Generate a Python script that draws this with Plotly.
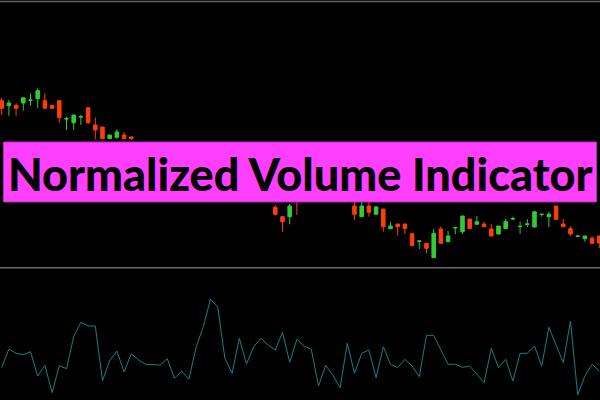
import plotly.graph_objects as go

# ---- candle data (price units, arbitrary scale) ----
candle_idx = list(range(84))
opens = [167.3, 162.3, 162.7, 165, 167.7, 169.3, 167.3, 162.7, 167.3, 149, 145.3, 151, 160.3, 143, 141, 129.3, 130.7, 133, 131,
         124, 120, 112, 116, 102, 105, 94, 98, 101, 90, 92, 83, 88, 86, 80, 84, 76, 79, 73,
         60.7, 51.3, 51.3, 70, 70, 72, 78, 76, 73, 77, 74,
         62, 51.3, 62, 53.7, 59, 39.3, 44, 44, 34.3, 26.7, 24.7, 10.3, 39, 26.3, 40, 36.3, 49, 43.7, 44, 39, 34, 39.3,
         49, 41.5, 43.7, 41, 53.5, 51.3, 62, 44, 39.3, 31.8, 29.3, 29.7, 32]
highs = [170, 168, 164.7, 170.3, 174.7, 179.7, 174.7, 162.7, 167.3, 151.3, 153, 153, 160.3, 150.7, 141, 133, 138.7, 136, 131.3,
         125, 124, 118, 117, 108, 107, 100, 104, 103, 95, 96, 90, 93, 91, 86, 87, 82, 81, 76,
         63, 51.3, 64, 72, 75, 80, 84, 82, 79, 81, 78,
         67, 67, 67, 62, 59, 46.3, 44, 44, 34.3, 27, 24.7, 39, 41.3, 37, 41.3, 52, 49, 52, 46.3, 44, 42, 49,
         51.3, 46.3, 49, 56.3, 53.7, 56.3, 62, 49, 41.7, 32.3, 32, 32, 32]
lows = [153, 152.3, 152.3, 157.3, 162.3, 159.7, 159.7, 159.7, 145.3, 138, 138, 143, 144, 128.7, 129, 129.3, 129.3, 129.3, 128,
        117, 110, 106, 100, 96, 92, 90, 95, 88, 84, 80, 79, 84, 78, 76, 74, 72, 70, 68,
        52.3, 36.3, 43.7, 53, 69, 70, 74, 70, 69, 72, 69,
        48, 51.3, 51.3, 53.7, 36.3, 39.3, 32.3, 34, 22.3, 19, 14.7, 10.3, 24.7, 26.3, 34, 34, 39.3, 43.7, 41.3, 32, 34, 39.3,
        48, 34.3, 41, 41, 51.3, 41, 48.7, 41.3, 32, 31.7, 26.3, 24.7, 19.7]
closes = [159.7, 165, 159.7, 170.3, 168, 177.3, 159.7, 159.7, 150.3, 149.3, 153, 151.3, 145.3, 138, 129.3, 133, 136, 129.3, 129.5,
          119, 112, 116, 102, 105, 94, 98, 101, 90, 92, 83, 88, 86, 80, 84, 76, 79, 73, 70,
          53.7, 46.3, 62, 68, 72, 78, 76, 73, 77, 74, 71,
          53.7, 62, 55.7, 61, 41.3, 42, 41.3, 39.3, 22.3, 27, 19.7, 34.7, 24.7, 32, 40.5, 52, 39.3, 46.3, 41.3, 32, 42, 46.3,
          49.3, 41.7, 44, 56.3, 53.7, 53.7, 48.7, 41.3, 34, 32, 32, 24.7, 25]

# ---- normalized volume ----
volume = [32.3, 51, 46.7, 45.3, 48.3, 24, 34.7, 7.3, 34.3, 31.3, 63.3, 77.7, 74, 74, 19.3, 39.3, 49, 28, 46.3, 40,
          35.7, 35, 35, 41.3, 21.7, 29, 20.7, 52.7, 73.3, 100.7, 93.3, 41.7, 26.7, 61.7, 36, 53.3, 61.7, 55, 50, 67.7,
          37.7, 60.7, 54, 50.7, 14, 34.7, 24.7, 12.3, 56.7, 26.7, 46.7, 50, 22.3, 53.3, 35.7, 32.5, 40.7, 34, 23.3, 64.7,
          64.7, 50, 35.7, 35.7, 32.7, 34, 25.7, 17.3, 51.7, 32.3, 40.7, 19, 46.7, 46.7, 54, 34, 72.7, 55, 37.3, 79,
          5, 24, 35.7, 29]

title_text = "Normalized Volume Indicator"

UP = "#33CC33"
DOWN = "#FF3D0A"

fig = go.Figure()
fig.add_trace(go.Candlestick(
    x=candle_idx, open=opens, high=highs, low=lows, close=closes,
    increasing=dict(line=dict(color=UP, width=1), fillcolor=UP),
    decreasing=dict(line=dict(color=DOWN, width=1), fillcolor=DOWN),
    whiskerwidth=0, xaxis="x", yaxis="y", showlegend=False, hoverinfo="skip"))
fig.add_trace(go.Scatter(
    x=candle_idx, y=volume, mode="lines", line=dict(color="#178080", width=1),
    xaxis="x2", yaxis="y2", showlegend=False, hoverinfo="skip"))

xr = [-0.236, 83.1]
fig.update_layout(
    width=600, height=400,
    margin=dict(l=0, r=0, t=0, b=0),
    paper_bgcolor="#000000", plot_bgcolor="#000000",
    xaxis=dict(range=xr, visible=False, rangeslider=dict(visible=False), domain=[0, 1]),
    yaxis=dict(range=[0, 268], visible=False, domain=[0.33, 1]),
    xaxis2=dict(range=xr, visible=False, anchor="y2", domain=[0, 1]),
    yaxis2=dict(range=[0, 132], visible=False, domain=[0, 0.33], anchor="x2"),
    shapes=[
        dict(type="line", xref="paper", yref="paper", x0=0, x1=1, y0=1 - 1.5 / 400, y1=1 - 1.5 / 400,
             line=dict(color="#606060", width=1.5)),
        dict(type="line", xref="paper", yref="paper", x0=0, x1=1, y0=1 - 267.7 / 400, y1=1 - 267.7 / 400,
             line=dict(color="#6a6a6a", width=1.5)),
        dict(type="rect", xref="paper", yref="paper", x0=3.5 / 600, x1=596.5 / 600,
             y0=1 - 202 / 400, y1=1 - 142 / 400, fillcolor="#FF3FFF",
             line=dict(color="#B52DB5", width=1), layer="above"),
    ],
    annotations=[dict(text=title_text, xref="paper", yref="paper",
                      x=300 / 600, y=1 - 174 / 400, xanchor="center", yanchor="middle",
                      showarrow=False,
                      font=dict(family="Lato", size=45, weight=900, color="#000000"))],
)

fig.write_html("out.html", config={"displayModeBar": False},
               post_script="document.body.style.margin='0';document.body.style.overflow='hidden';")
